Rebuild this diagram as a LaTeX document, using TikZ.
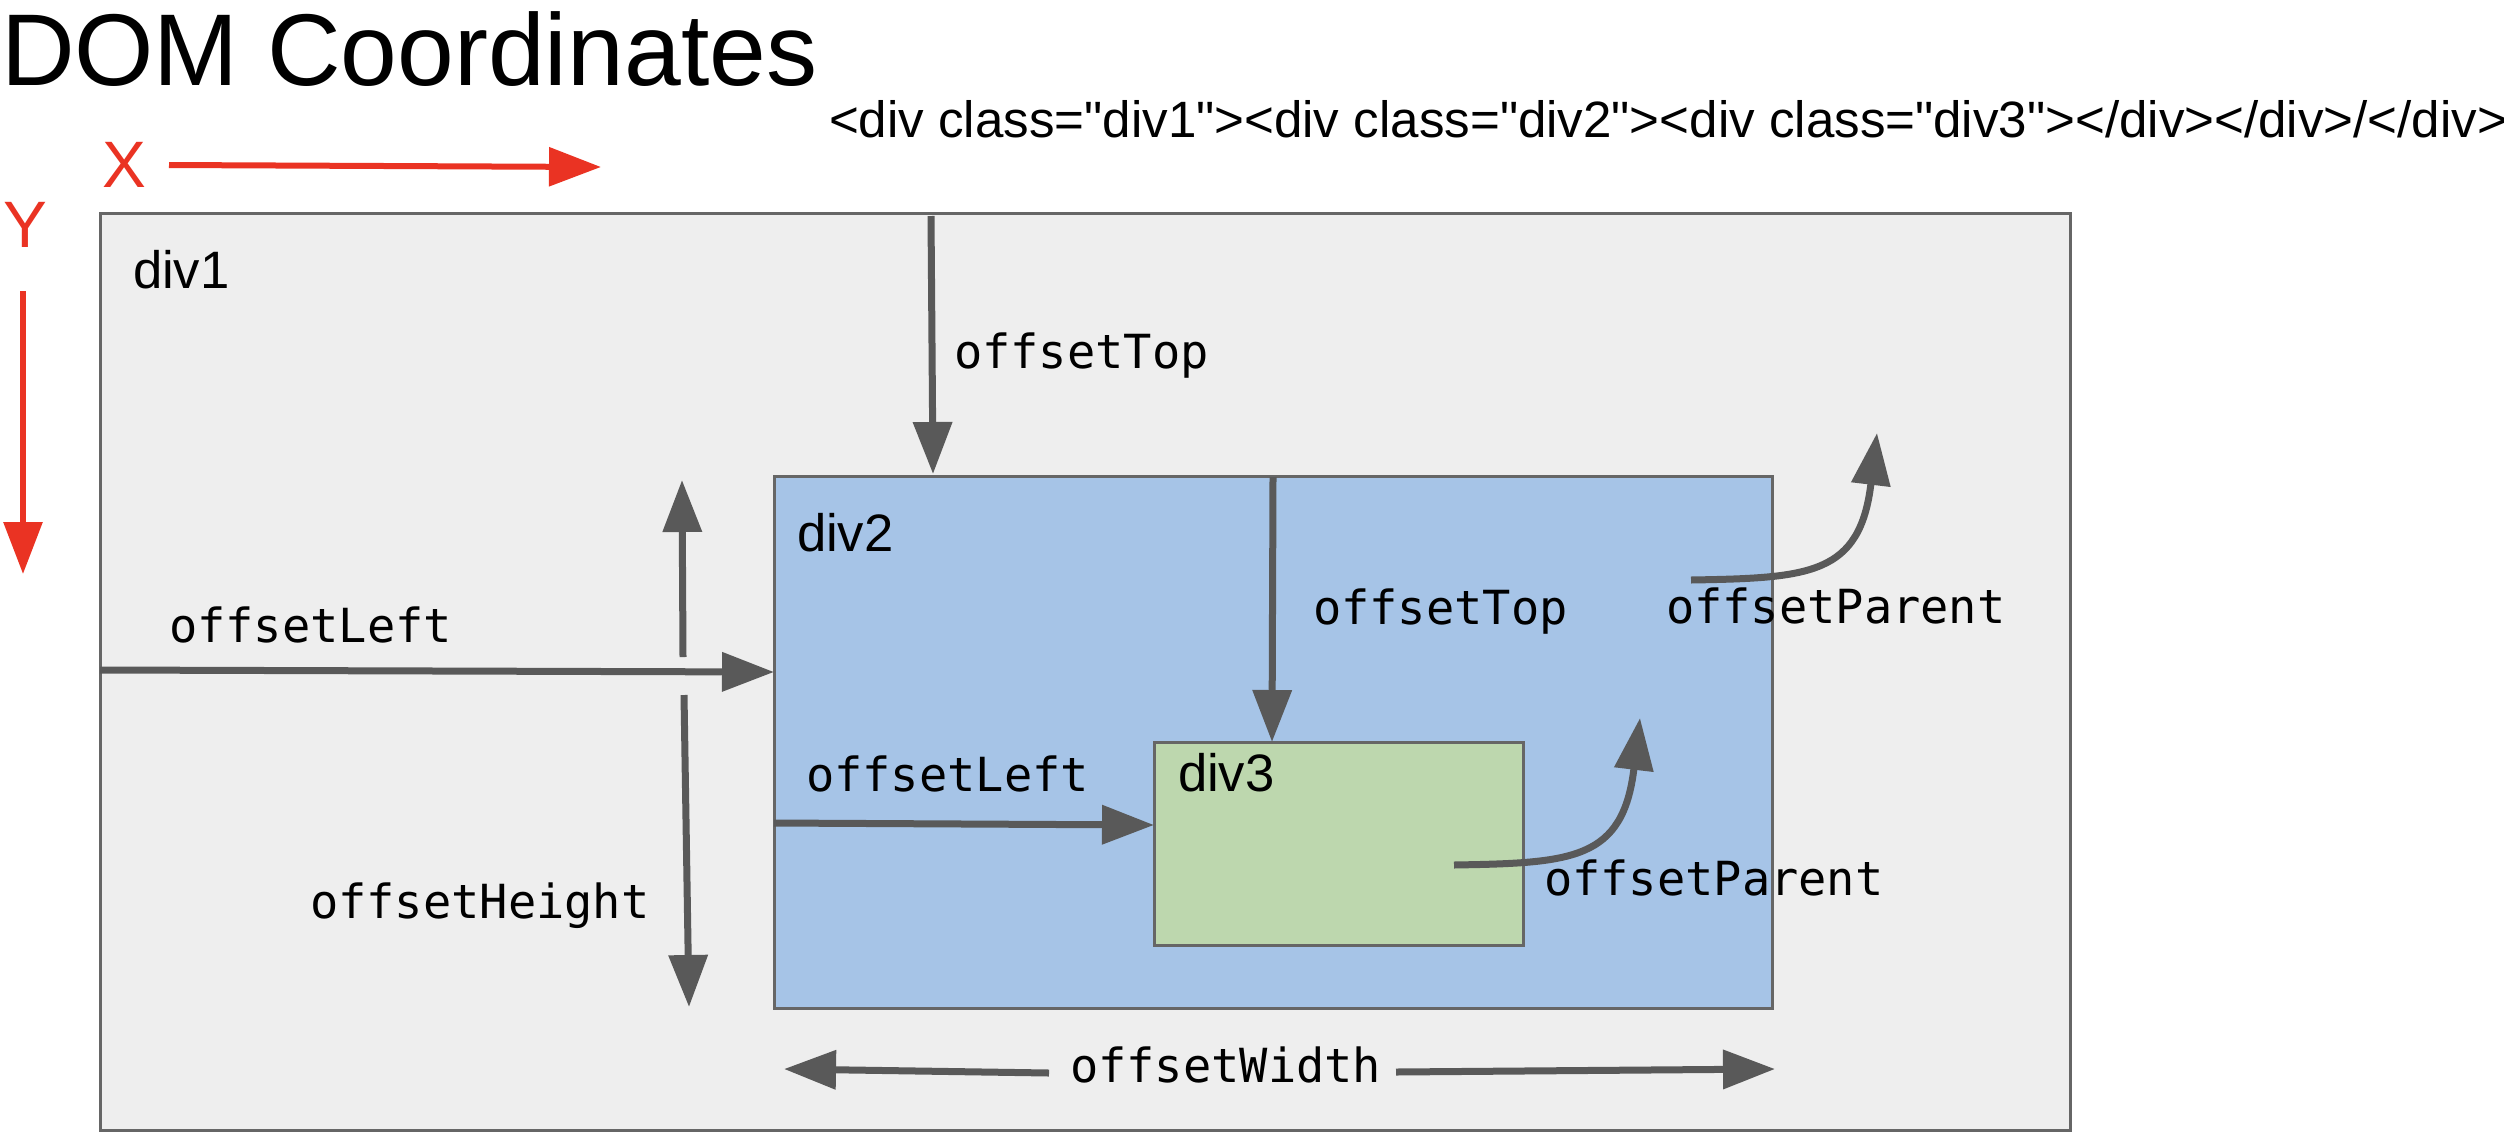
\documentclass[tikz,border=0pt]{standalone}
\usepackage{fontspec}
\setmainfont{Liberation Sans}[Ligatures=TeXOff]
\newfontfamily\monofont{DejaVu Sans Mono}[Ligatures=TeXOff]
\usetikzlibrary{arrows.meta}
\definecolor{arrowgray}{HTML}{595959}
\definecolor{boxborder}{HTML}{666666}
\definecolor{divonefill}{HTML}{EEEEEE}
\definecolor{divtwofill}{HTML}{A6C4E7}
\definecolor{divthreefill}{HTML}{BDD7AE}
\definecolor{axisred}{HTML}{EA3323}
\begin{document}
\begin{tikzpicture}[x=0.3pt,y=-0.3pt,
  box/.style={draw=boxborder, line width=0.9pt, inner sep=0pt, outer sep=0pt, anchor=north west},
  lbl/.style={inner sep=0pt, outer sep=0pt, anchor=base west},
  code/.style={lbl, font=\monofont\fontsize{14.1pt}{16pt}\selectfont},
  divname/.style={lbl, font=\fontsize{15.8pt}{18pt}\selectfont},
  garrow/.style={draw=arrowgray, line width=2.1pt, -{Triangle[length=15.6pt,width=11.4pt]}},
  rarrow/.style={draw=axisred, line width=1.8pt, -{Triangle[length=15.6pt,width=11.4pt]}},
]
\fill[white] (0,0) rectangle (2504,1146);
\useasboundingbox (0,0) rectangle (2504,1146);

% titles
\node[lbl, font=\fontsize{30.6pt}{34pt}\selectfont] (title) at (1,85) {DOM Coordinates};
\node[lbl, font=\fontsize{15.33pt}{18pt}\selectfont] (html) at (829,137.7)
  {<div class="div1"><div class="div2"><div class="div3"></div></div>/</div>};

% axes
\node[lbl, text=axisred, font=\fontsize{19.7pt}{22pt}\selectfont] (xlab) at (102,187) {X};
\node[lbl, text=axisred, font=\fontsize{19.7pt}{22pt}\selectfont] (ylab) at (3,247) {Y};
\coordinate (xs) at (169,165);
\coordinate (xe) at (601,167);
\coordinate (ys) at (23,291);
\coordinate (ye) at (23,574);
\draw[rarrow] (xs) -- (xe);
\draw[rarrow] (ys) -- (ye);

% boxes
\node[box, fill=divonefill, minimum width=591pt, minimum height=275.1pt] (div1) at (100,213) {};
\node[box, fill=divtwofill, minimum width=299.4pt, minimum height=159.6pt] (div2) at (774,476) {};
\node[box, fill=divthreefill, minimum width=110.7pt, minimum height=60.9pt] (div3) at (1154,742) {};

\node[divname] (n1) at (133,288.3) {div1};
\node[divname] (n2) at (797,551.5) {div2};
\node[divname] (n3) at (1178,791) {div3};

% outer offsetTop
\coordinate (ot1s) at (931,216);
\coordinate (ot1e) at (933,474);
\draw[garrow] (ot1s) -- (ot1e);
\node[code] (ot1) at (954,368) {offsetTop};

% outer offsetLeft
\coordinate (ol1s) at (100,670);
\coordinate (ol1e) at (774,672);
\draw[garrow] (ol1s) -- (ol1e);
\node[code] (ol1) at (169,642) {offsetLeft};

% offsetHeight
\coordinate (ohus) at (683,657);
\coordinate (ohue) at (682,480);
\coordinate (ohds) at (684,695);
\coordinate (ohde) at (689,1007);
\draw[garrow] (ohus) -- (ohue);
\draw[garrow] (ohds) -- (ohde);
\node[code] (oh) at (310,918) {offsetHeight};

% inner offsetTop
\coordinate (ot2s) at (1273,477);
\coordinate (ot2e) at (1272,742);
\draw[garrow] (ot2s) -- (ot2e);
\node[code] (ot2) at (1313,624) {offsetTop};

% inner offsetLeft
\coordinate (ol2s) at (774,823);
\coordinate (ol2e) at (1154,825);
\draw[garrow] (ol2s) -- (ol2e);
\node[code] (ol2) at (806,791) {offsetLeft};

% offsetParent arrows
\coordinate (op2s) at (1691,580);
\coordinate (op2e) at (1877,433);
\draw[garrow] (op2s) .. controls (1810,578) and (1860,575) .. (op2e);
\node[code] (op2) at (1666,623) {offsetParent};

\coordinate (op3s) at (1454,865);
\coordinate (op3e) at (1640,718);
\draw[garrow] (op3s) .. controls (1573,863) and (1623,860) .. (op3e);
\node[code] (op3) at (1544,895) {offsetParent};

% offsetWidth
\node[code] (ow) at (1070,1082) {offsetWidth};
\coordinate (owls) at (1049,1073);
\coordinate (owle) at (784,1069);
\coordinate (owrs) at (1396,1072);
\coordinate (owre) at (1775,1069);
\draw[garrow] (owls) -- (owle);
\draw[garrow] (owrs) -- (owre);
\end{tikzpicture}
\end{document}
